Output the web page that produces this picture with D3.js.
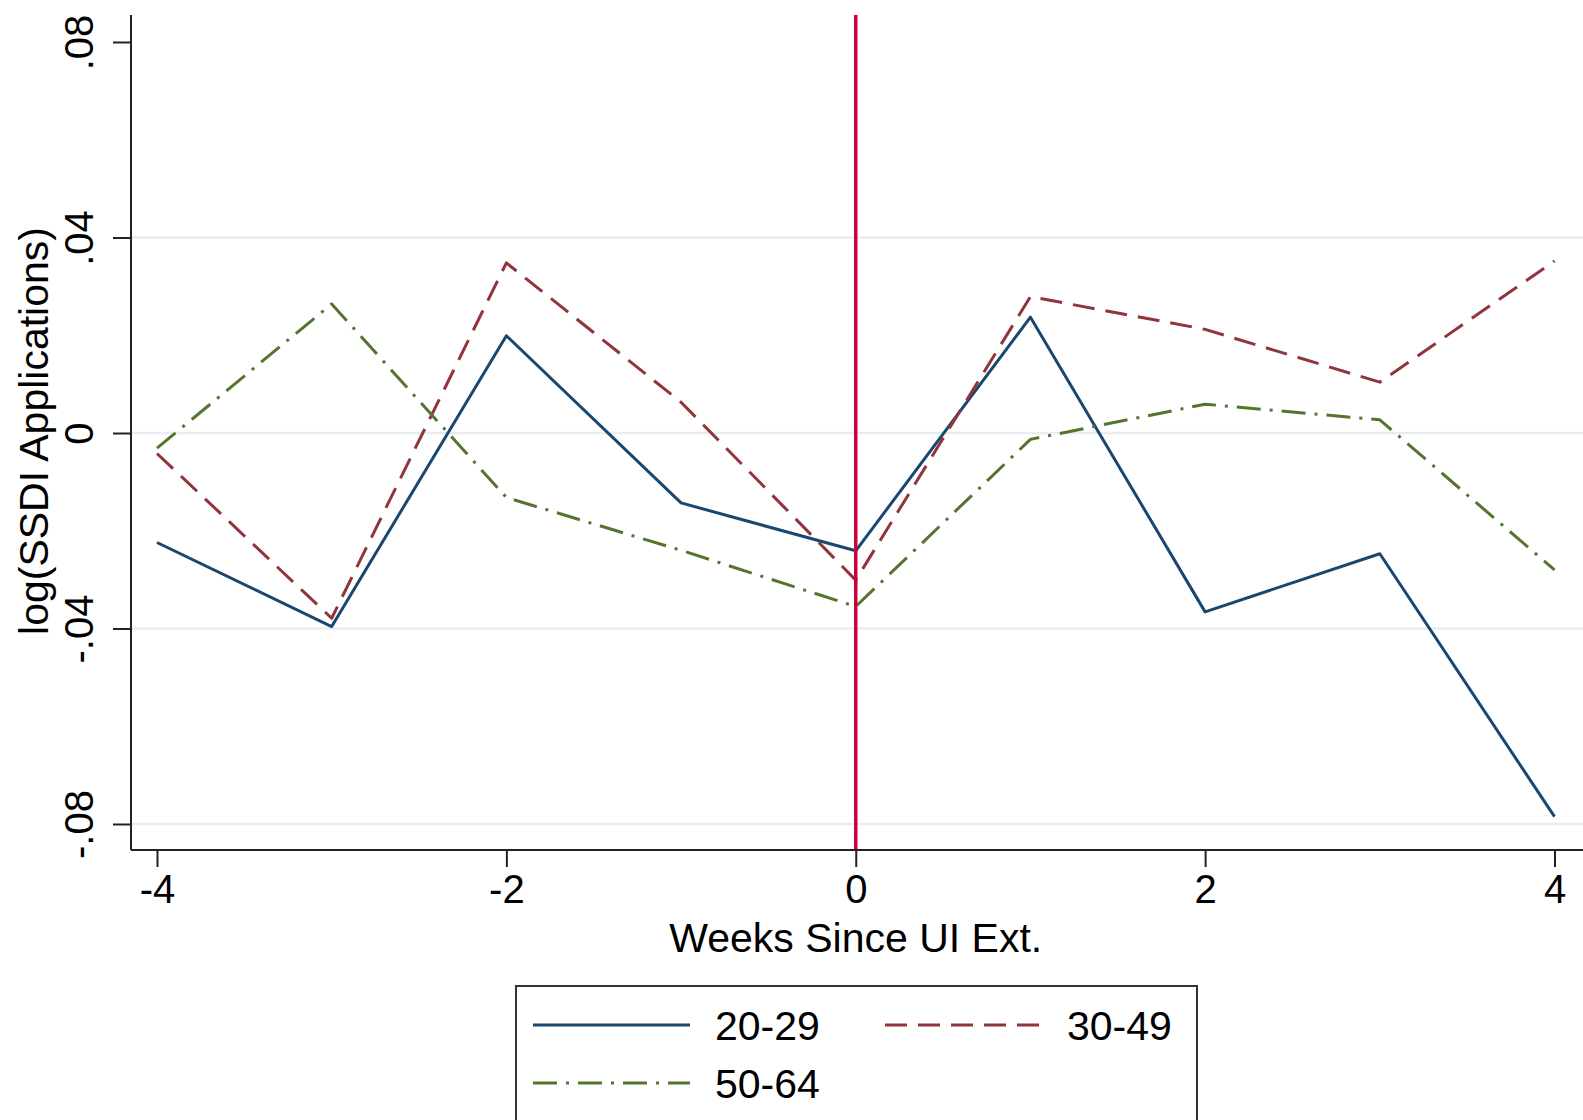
<!DOCTYPE html>
<html>
<head>
<meta charset="utf-8">
<script src="https://cdn.jsdelivr.net/npm/d3@7"></script>
<style>
  body { margin: 0; background: #fff; }
  text { font-family: "Liberation Sans", Arial, sans-serif; fill: #000; }
</style>
</head>
<body>
<script>
// Data
let weeks = [-4, -3, -2, -1, 0, 1, 2, 3, 4];
let age20to29 = [-0.0224, -0.0396, 0.0199, -0.0143, -0.0241, 0.0237, -0.0366, -0.0247, -0.0785];
let age30to49 = [-0.0042, -0.0379, 0.0348, 0.0063, -0.0301, 0.0279, 0.0212, 0.0104, 0.0352];
let age50to64 = [-0.0031, 0.0264, -0.0132, -0.024, -0.0355, -0.0013, 0.0059, 0.0027, -0.028];
let xTicks = [-4, -2, 0, 2, 4];
let xTickLabels = ["-4", "-2", "0", "2", "4"];
let yTicks = [0.08, 0.04, 0, -0.04, -0.08];
let yTickLabels = [".08", ".04", "0", "-.04", "-.08"];
let gridTicks = [0.04, 0, -0.04, -0.08];
let seriesNames = ["20-29", "30-49", "50-64"];

// Dimensions
let width = 1583;
let height = 1120;
let plot = { left: 131, top: 15, bottom: 850, right: 1583 };

let svg = d3
  .select("body")
  .append("svg")
  .attr("width", width)
  .attr("height", height)
  .style("display", "block");

let xScale = d3.scaleLinear().domain([-4, 4]).range([157, 1554.5]);
let yScale = d3.scaleLinear().domain([-0.08, 0.08]).range([824, 42]);

let series = [
  { name: seriesNames[0], values: age20to29, color: "#1a476f", dash: null },
  { name: seriesNames[1], values: age30to49, color: "#90353b", dash: "22,11" },
  { name: seriesNames[2], values: age50to64, color: "#55752f", dash: "24,9,3,9" },
];

// Gridlines
svg
  .append("g")
  .selectAll("line")
  .data(gridTicks)
  .join("line")
  .attr("x1", plot.left)
  .attr("x2", plot.right)
  .attr("y1", (d) => yScale(d))
  .attr("y2", (d) => yScale(d))
  .attr("stroke", "#e6eef0")
  .attr("stroke-width", 2.5);

// Lines
let line = d3
  .line()
  .x((d, i) => xScale(weeks[i]))
  .y((d) => yScale(d));

svg
  .append("g")
  .selectAll("path")
  .data(series)
  .join("path")
  .attr("d", (d) => line(d.values))
  .attr("fill", "none")
  .attr("stroke", (d) => d.color)
  .attr("stroke-width", 3)
  .attr("stroke-dasharray", (d) => d.dash)
  .attr("stroke-linejoin", "round");

// Vertical marker at week 0
svg
  .append("line")
  .attr("x1", xScale(0))
  .attr("x2", xScale(0))
  .attr("y1", plot.top)
  .attr("y2", plot.bottom)
  .attr("stroke", "#c8003c")
  .attr("stroke-width", 3.5);

// X axis
let xAxis = svg
  .append("g")
  .attr("transform", `translate(0, ${plot.bottom})`)
  .call(
    d3
      .axisBottom(xScale)
      .tickValues(xTicks)
      .tickSize(17)
      .tickPadding(8)
      .tickFormat((d, i) => xTickLabels[i]),
  );
xAxis.select(".domain").remove();
xAxis.selectAll("line").attr("stroke", "#222").attr("stroke-width", 2);
xAxis.selectAll("text").style("font-size", "40px");

svg
  .append("line")
  .attr("x1", plot.left)
  .attr("x2", plot.right)
  .attr("y1", plot.bottom)
  .attr("y2", plot.bottom)
  .attr("stroke", "#222")
  .attr("stroke-width", 2);

// Y axis
let yAxis = svg
  .append("g")
  .attr("transform", `translate(${plot.left}, 0)`)
  .call(
    d3
      .axisLeft(yScale)
      .tickValues(yTicks)
      .tickSize(18)
      .tickFormat((d, i) => yTickLabels[i]),
  );
yAxis.select(".domain").remove();
yAxis.selectAll("line").attr("stroke", "#222").attr("stroke-width", 2);
yAxis
  .selectAll("text")
  .attr("x", null)
  .attr("dy", null)
  .attr("text-anchor", "middle")
  .attr("transform", "translate(-38, 0) rotate(-90)")
  .style("font-size", "40px");

svg
  .append("line")
  .attr("x1", plot.left)
  .attr("x2", plot.left)
  .attr("y1", plot.top)
  .attr("y2", plot.bottom)
  .attr("stroke", "#222")
  .attr("stroke-width", 2);

// Axis titles
svg
  .append("text")
  .attr("x", (xScale(-4) + xScale(4)) / 2)
  .attr("y", 952)
  .attr("text-anchor", "middle")
  .style("font-size", "41px")
  .text("Weeks Since UI Ext.");

svg
  .append("text")
  .attr("transform", "translate(48, 431) rotate(-90)")
  .attr("text-anchor", "middle")
  .style("font-size", "41px")
  .text("log(SSDI Applications)");

// Legend
let legend = svg.append("g");
legend
  .append("rect")
  .attr("x", 516)
  .attr("y", 986)
  .attr("width", 681)
  .attr("height", 160)
  .attr("fill", "#fff")
  .attr("stroke", "#333")
  .attr("stroke-width", 2);

let legendPos = [
  { x: 533, y: 1025 },
  { x: 885, y: 1025 },
  { x: 533, y: 1083 },
];

let items = legend
  .selectAll(".item")
  .data(series)
  .join("g")
  .attr("class", "item")
  .attr("transform", (d, i) => `translate(${legendPos[i].x}, ${legendPos[i].y})`);

items
  .append("line")
  .attr("x1", 0)
  .attr("x2", 157)
  .attr("stroke", (d) => d.color)
  .attr("stroke-width", 3)
  .attr("stroke-dasharray", (d) => d.dash);

items
  .append("text")
  .attr("x", 182)
  .attr("y", 15)
  .style("font-size", "41px")
  .text((d) => d.name);
</script>
</body>
</html>
